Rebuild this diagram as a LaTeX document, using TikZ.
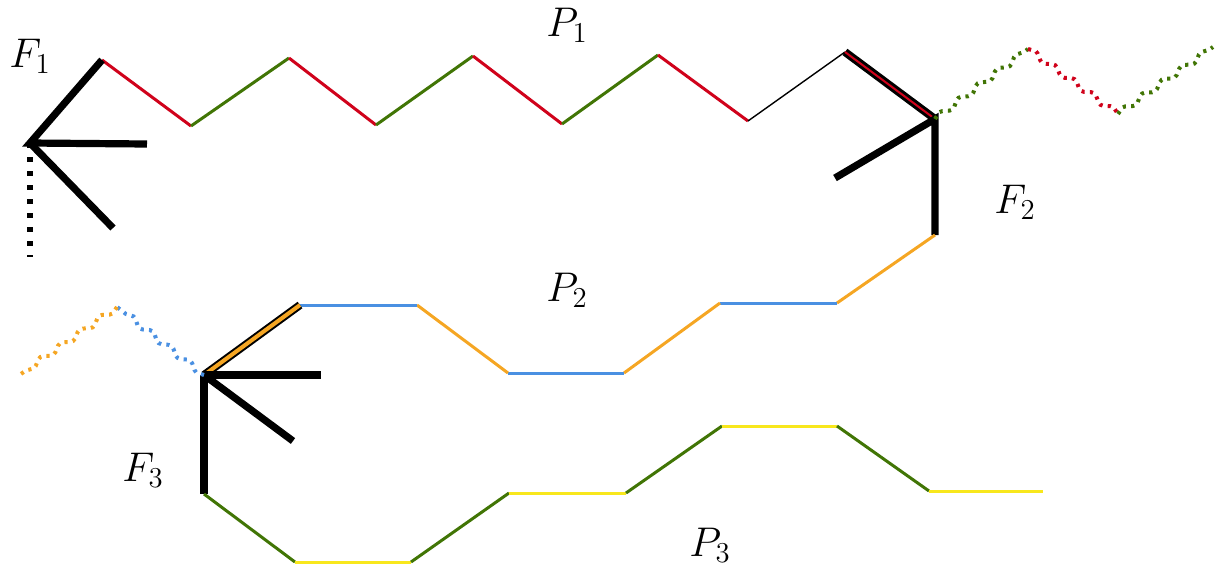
\documentclass[tikz,border=0pt]{standalone}
\usetikzlibrary{decorations.pathmorphing}
\definecolor{cred}{HTML}{D0021B}
\definecolor{cgreen}{HTML}{417505}
\definecolor{corange}{HTML}{F5A623}
\definecolor{cblue}{HTML}{4A90E2}
\definecolor{cyellow}{HTML}{F8E71C}
\tikzset{
  seg/.style={line width=1.5pt},
  fan/.style={line width=3.6pt, black},
  outer/.style={line width=4pt, black},
  inner/.style={line width=1pt},
  wavy/.style={line width=2pt, dash pattern=on 1.6pt off 2.6pt,
    decorate, decoration={snake, amplitude=1.4pt, segment length=12pt}},
  lbl/.style={font=\fontsize{20}{24}\selectfont},
}
\begin{document}
\begin{tikzpicture}[x=0.5pt,y=-0.5pt]
\useasboundingbox (0,0) rectangle (1226,574);
% P1 points
\coordinate (a0) at (102,60);
\coordinate (a1) at (191,126);
\coordinate (a2) at (289,58);
\coordinate (a3) at (376,125);
\coordinate (a4) at (473,56);
\coordinate (a5) at (562,124);
\coordinate (a6) at (658,55);
\coordinate (a7) at (748,121);
\coordinate (a8) at (845,52);
\coordinate (f2) at (935,119);
% F1
\coordinate (f1) at (30,143);
\coordinate (f1b) at (147,144);
\coordinate (f1c) at (113,228);
\coordinate (f1d) at (30,257);
% F2
\coordinate (f2b) at (835,178);
\coordinate (f2c) at (935,235);
\coordinate (w1) at (1028,49);
\coordinate (w2) at (1118,114);
\coordinate (w3) at (1213,47);
% P2
\coordinate (b1) at (837,303);
\coordinate (b2) at (720,303);
\coordinate (b3) at (624,373);
\coordinate (b4) at (508,373);
\coordinate (b5) at (417,305);
\coordinate (b6) at (300,305);
\coordinate (f3) at (204,375);
% F3
\coordinate (f3b) at (321,375);
\coordinate (f3c) at (293,441);
\coordinate (f3d) at (204,494);
\coordinate (v1) at (117,307);
\coordinate (v2) at (18,376);
% P3
\coordinate (c1) at (295,562);
\coordinate (c2) at (411,562);
\coordinate (c3) at (509,493);
\coordinate (c4) at (626,493);
\coordinate (c5) at (722,426);
\coordinate (c6) at (837,426);
\coordinate (c7) at (929,491);
\coordinate (c8) at (1043,491);

% P1 segments
\draw[seg, cred] (a0) -- (a1);
\draw[seg, cgreen] (a1) -- (a2);
\draw[seg, cred] (a2) -- (a3);
\draw[seg, cgreen] (a3) -- (a4);
\draw[seg, cred] (a4) -- (a5);
\draw[seg, cgreen] (a5) -- (a6);
\draw[seg, cred] (a6) -- (a7);
\draw[line width=0.7pt, black] (a7) -- (a8);
\draw[outer] (a8) -- (f2);
\draw[inner, cred] (a8) -- (f2);

% F1 fan
\draw[fan] (a0) -- (f1) -- (f1b);
\draw[fan] (f1) -- (f1c);
\draw[line width=3pt, dash pattern=on 2.6pt off 4.4pt] (f1) -- (f1d);

% F2 fan
\draw[fan] (f2b) -- (f2) -- (f2c);
\draw[wavy, cgreen] (f2) -- (w1);
\draw[wavy, cred] (w1) -- (w2);
\draw[wavy, cgreen] (w2) -- (w3);

% P2 segments
\draw[seg, corange] (f2c) -- (b1);
\draw[seg, cblue] (b1) -- (b2);
\draw[seg, corange] (b2) -- (b3);
\draw[seg, cblue] (b3) -- (b4);
\draw[seg, corange] (b4) -- (b5);
\draw[seg, cblue] (b5) -- (b6);
\draw[line width=4pt, black] (b6) -- (f3);
\draw[line width=2pt, corange] (b6) -- (f3);

% F3 fan
\draw[fan] (f3) -- (f3b);
\draw[fan] (f3) -- (f3c);
\draw[fan] (f3) -- (f3d);
\draw[wavy, cblue] (f3) -- (v1);
\draw[wavy, corange] (v1) -- (v2);

% P3 segments
\draw[seg, cgreen] (f3d) -- (c1);
\draw[seg, cyellow] (c1) -- (c2);
\draw[seg, cgreen] (c2) -- (c3);
\draw[seg, cyellow] (c3) -- (c4);
\draw[seg, cgreen] (c4) -- (c5);
\draw[seg, cyellow] (c5) -- (c6);
\draw[seg, cgreen] (c6) -- (c7);
\draw[seg, cyellow] (c7) -- (c8);

% labels
\node[lbl] (lF1) at (30,56) {$F_1$};
\node[lbl] (lP1) at (567,25) {$P_1$};
\node[lbl] (lF2) at (1015,202) {$F_2$};
\node[lbl] (lP2) at (567,290) {$P_2$};
\node[lbl] (lF3) at (143,470) {$F_3$};
\node[lbl] (lP3) at (710,545) {$P_3$};
\end{tikzpicture}
\end{document}
